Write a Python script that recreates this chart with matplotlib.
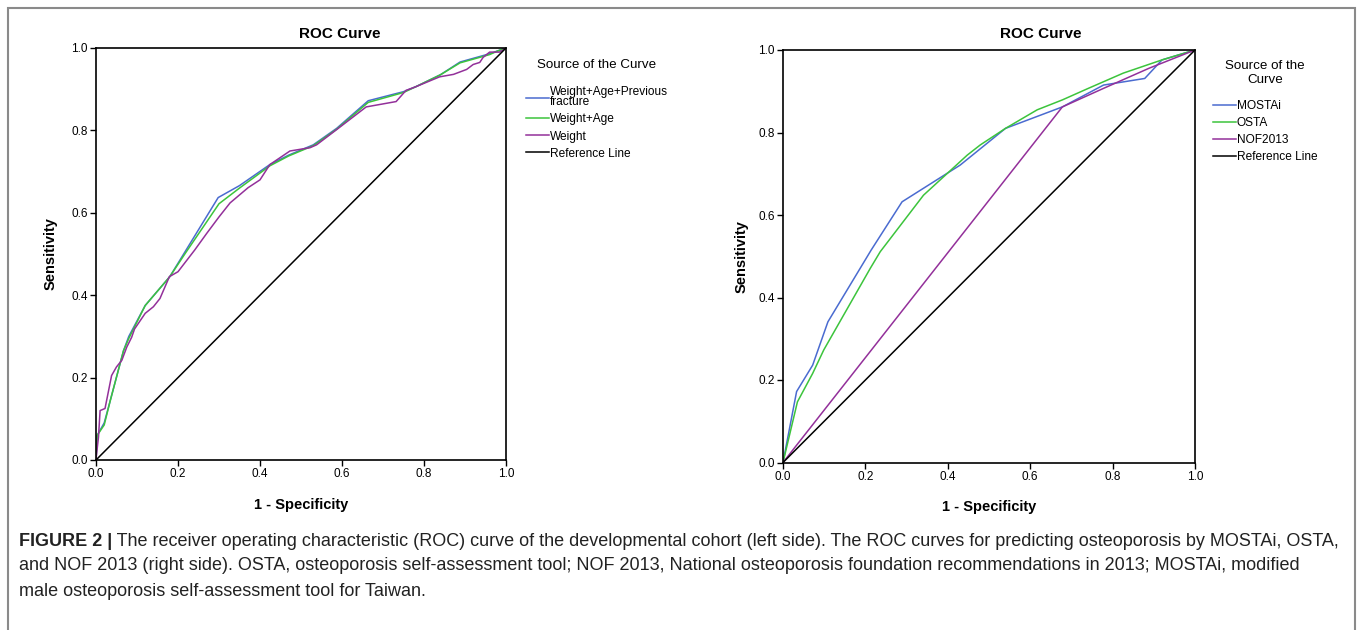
import matplotlib
matplotlib.use("Agg")
import matplotlib.pyplot as plt
from matplotlib.patches import Rectangle

plt.rcParams['font.family'] = ['Liberation Sans', 'DejaVu Sans']

# ---- left panel: developmental cohort ----
left_labels = ["Weight+Age+Previous\nfracture", "Weight+Age", "Weight", "Reference Line"]

wap_fpr = [0, 0.003, 0.02, 0.035, 0.067, 0.08, 0.12, 0.18, 0.22, 0.298, 0.35, 0.424, 0.47,
           0.53, 0.587, 0.664, 0.75, 0.78, 0.84, 0.888, 0.96, 0.98, 1.0]
wap_tpr = [0, 0.06, 0.09, 0.145, 0.265, 0.30, 0.375, 0.445, 0.51, 0.637, 0.666, 0.717, 0.74,
           0.765, 0.805, 0.872, 0.894, 0.906, 0.935, 0.966, 0.986, 0.993, 1.0]

wa_fpr = [0, 0.003, 0.02, 0.035, 0.067, 0.08, 0.12, 0.18, 0.22, 0.30, 0.35, 0.424, 0.47,
          0.53, 0.587, 0.664, 0.75, 0.78, 0.84, 0.888, 0.96, 0.98, 1.0]
wa_tpr = [0, 0.06, 0.085, 0.145, 0.265, 0.295, 0.375, 0.445, 0.505, 0.622, 0.66, 0.714, 0.738,
          0.763, 0.803, 0.868, 0.892, 0.906, 0.935, 0.964, 0.984, 0.993, 1.0]

w_fpr = [0, 0.002, 0.006, 0.01, 0.022, 0.025, 0.038, 0.05, 0.063, 0.075, 0.087, 0.094, 0.12,
         0.14, 0.156, 0.179, 0.2, 0.241, 0.27, 0.30, 0.327, 0.371, 0.4, 0.424, 0.473, 0.522,
         0.538, 0.587, 0.659, 0.732, 0.756, 0.78, 0.838, 0.872, 0.904, 0.92, 0.936, 0.944,
         0.96, 0.984, 1.0]
w_tpr = [0, 0.02, 0.055, 0.12, 0.125, 0.14, 0.205, 0.226, 0.242, 0.274, 0.298, 0.318, 0.356,
         0.372, 0.392, 0.445, 0.457, 0.51, 0.55, 0.59, 0.624, 0.661, 0.68, 0.717, 0.75, 0.758,
         0.765, 0.802, 0.857, 0.87, 0.897, 0.906, 0.93, 0.936, 0.948, 0.96, 0.965, 0.977,
         0.99, 0.99, 1.0]

# ---- right panel: MOSTAi / OSTA / NOF2013 ----
right_labels = ["MOSTAi", "OSTA", "NOF2013", "Reference Line"]

mostai_fpr = [0, 0.033, 0.072, 0.109, 0.214, 0.289, 0.43, 0.54, 0.678, 0.778, 0.878, 0.92, 1.0]
mostai_tpr = [0, 0.172, 0.236, 0.341, 0.515, 0.632, 0.721, 0.81, 0.862, 0.915, 0.931, 0.976, 1.0]

osta_fpr = [0, 0.035, 0.072, 0.099, 0.212, 0.236, 0.341, 0.447, 0.479, 0.54, 0.617, 0.678,
            0.741, 0.826, 0.92, 1.0]
osta_tpr = [0, 0.147, 0.216, 0.273, 0.471, 0.511, 0.648, 0.745, 0.77, 0.81, 0.855, 0.879,
            0.907, 0.944, 0.976, 1.0]

nof_fpr = [0, 0.678, 0.778, 0.889, 1.0]
nof_tpr = [0, 0.862, 0.907, 0.956, 1.0]

ref_line = [0, 1]
ticks = [0.0, 0.2, 0.4, 0.6, 0.8, 1.0]

BLUE = '#4a6bd0'
GREEN = '#3cc43c'
PURPLE = '#93309a'

caption_bold = "FIGURE 2 |"
caption_rest = [
    " The receiver operating characteristic (ROC) curve of the developmental cohort (left side). "
    "The ROC curves for predicting osteoporosis by MOSTAi, OSTA,",
    "and NOF 2013 (right side). OSTA, osteoporosis self-assessment tool; NOF 2013, National "
    "osteoporosis foundation recommendations in 2013; MOSTAi, modified",
    "male osteoporosis self-assessment tool for Taiwan.",
]

W, H = 1358, 630
fig = plt.figure(figsize=(W / 100, H / 100), dpi=100)

# outer grey frame
fig.patches.append(Rectangle((8 / W, -0.05), 1347 / W, 1.05 - 8 / H, transform=fig.transFigure,
                             fill=False, edgecolor='#8a8a8a', linewidth=1.5))


def roc_panel(rect, curves, labels, title, title_x, legend_anchor, ylabelpad):
    ax = fig.add_axes(rect)
    for (xs, ys), c in zip(curves, [BLUE, GREEN, PURPLE]):
        ax.plot(xs, ys, color=c, lw=1.1)
    ax.plot(ref_line, ref_line, color='black', lw=1.1)
    ax.set_xlim(0, 1)
    ax.set_ylim(0, 1)
    ax.set_xticks(ticks)
    ax.set_yticks(ticks)
    ax.set_xticklabels([f"{t:.1f}" for t in ticks])
    ax.set_yticklabels([f"{t:.1f}" for t in ticks])
    ax.tick_params(direction='out', length=4, width=1, labelsize=8.5, pad=2, colors='black')
    for s in ax.spines.values():
        s.set_linewidth(1.2)
    ax.set_xlabel("1 - Specificity", fontsize=10.5, fontweight='bold', labelpad=12.5)
    ax.set_ylabel("Sensitivity", fontsize=10.5, fontweight='bold', labelpad=ylabelpad)
    fig.text(title_x / W, 1 - 34 / H, title, fontsize=11, fontweight='bold',
             ha='center', va='center')
    handles = ax.get_lines()
    leg = ax.legend(handles, labels, title=legend_anchor[2], loc='upper left',
                    bbox_to_anchor=(legend_anchor[0] / W, 1 - legend_anchor[1] / H),
                    bbox_transform=fig.transFigure, frameon=False, fontsize=8.6,
                    title_fontsize=9.6, handlelength=1.9, handletextpad=0.1,
                    labelspacing=0.42, borderpad=0, borderaxespad=0)
    leg.get_title().set_multialignment('center')
    leg._legend_box.sep = legend_anchor[3]
    for t in leg.get_texts():
        t.set_linespacing(0.8)
    return ax


roc_panel([96 / W, 1 - 460 / H, 410 / W, 412 / H],
          [(wap_fpr, wap_tpr), (wa_fpr, wa_tpr), (w_fpr, w_tpr)],
          left_labels, "ROC Curve", 340, (526, 59, "Source of the Curve", 11), 10)

roc_panel([783 / W, 1 - 462.5 / H, 412 / W, 412.5 / H],
          [(mostai_fpr, mostai_tpr), (osta_fpr, osta_tpr), (nof_fpr, nof_tpr)],
          right_labels, "ROC Curve", 1041, (1213, 60, "Source of the\nCurve", 10), 7)

# caption
cap_kw = dict(fontsize=13, va='center', color='#222222')
bt = fig.text(19 / W, 1 - 541 / H, caption_bold, fontweight='bold', **cap_kw)
fig.canvas.draw()
bb = bt.get_window_extent()
fig.text(bb.x1 / W, 1 - 541 / H, caption_rest[0], **cap_kw)
fig.text(19 / W, 1 - 566 / H, caption_rest[1], **cap_kw)
fig.text(19 / W, 1 - 591 / H, caption_rest[2], **cap_kw)

fig.savefig("out.png", dpi=100)
plt.close(fig)
